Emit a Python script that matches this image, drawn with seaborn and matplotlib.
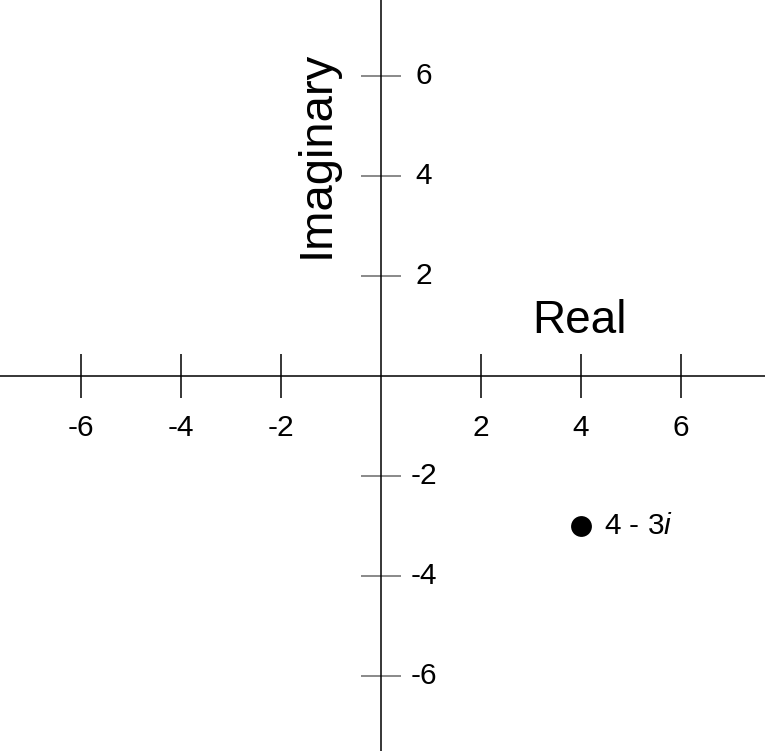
import matplotlib
matplotlib.use("Agg")
import matplotlib.pyplot as plt
import seaborn as sns
import pandas as pd

# Data
x_ticks = [-6, -4, -2, 2, 4, 6]
y_ticks = [-6, -4, -2, 2, 4, 6]
point_re = [4]
point_im = [-3]
point_label = "4 - 3$i$"

sns.set_theme(style="white")
plt.rcParams['font.family'] = ['Liberation Sans', 'DejaVu Sans']
plt.rcParams['mathtext.fontset'] = 'custom'
plt.rcParams['mathtext.rm'] = 'Liberation Sans'
plt.rcParams['mathtext.it'] = 'Liberation Sans:italic'

fig = plt.figure(figsize=(7.65, 7.51), dpi=100)
ax = fig.add_axes([0, 0, 1, 1])
ax.set_xlim(-7.62, 7.68)
ax.set_ylim(-7.5, 7.52)

for s in ['top', 'right']:
    ax.spines[s].set_visible(False)
ax.spines['left'].set_position(('data', 0))
ax.spines['bottom'].set_position(('data', 0))
for s in ['left', 'bottom']:
    ax.spines[s].set_color('black')
    ax.spines[s].set_linewidth(1.1)

ax.set_xticks(x_ticks)
ax.set_yticks(y_ticks)
ax.tick_params(axis='x', direction='inout', length=31, width=1.1, color='black',
               labelbottom=False, bottom=True)
ax.tick_params(axis='y', direction='inout', length=29, width=1.3, color='#808080',
               labelleft=False, left=True)

for t in x_ticks:
    ax.text(t, -1.04, str(t), ha='center', va='center', fontsize=21.5, color='black')
for t in y_ticks:
    ax.text(0.86, t, str(t), ha='center', va='center', fontsize=21.5, color='black')

df = pd.DataFrame({'re': point_re, 'im': point_im})
sns.scatterplot(data=df, x='re', y='im', ax=ax, s=225, color='black',
                linewidth=0, legend=False, zorder=5)
ax.text(point_re[0] + 0.46, point_im[0], point_label, ha='left', va='center',
        fontsize=21.5, color='black')

ax.text(3.98, 1.1, "Real", ha='center', va='center', fontsize=33, color='black')
ax.text(-1.28, 4.44, "Imaginary", ha='center', va='center', rotation=90,
        fontsize=34, color='black')

ax.set_xlabel('')
ax.set_ylabel('')
ax.grid(False)
fig.savefig('out.png', dpi=100)
